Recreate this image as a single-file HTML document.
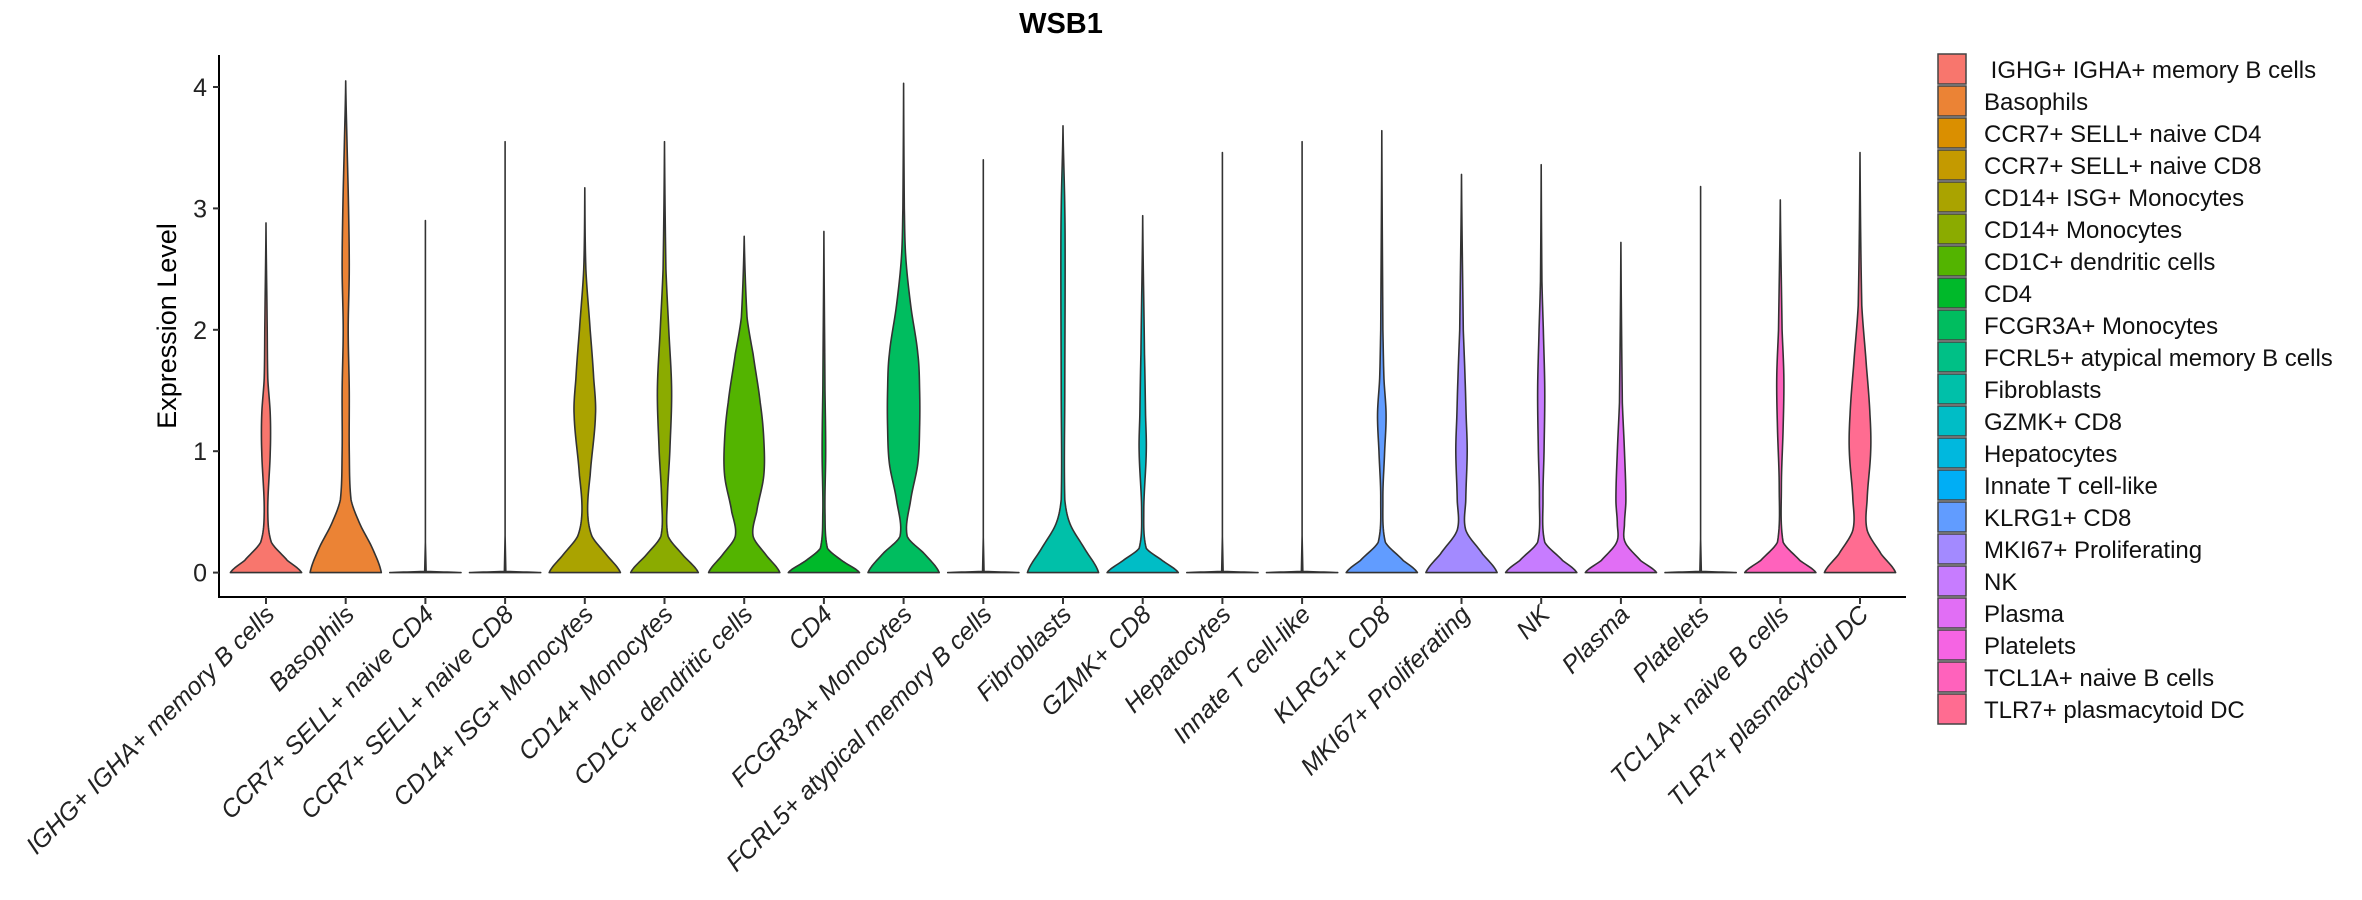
<!DOCTYPE html>
<html><head><meta charset="utf-8"><style>
html,body{margin:0;padding:0;background:#fff;}
svg{display:block;font-family:"Liberation Sans",sans-serif;}
</style></head><body>
<svg id="chart" width="2362" height="900" viewBox="0 0 2362 900">
<text x="1061" y="33" text-anchor="middle" font-size="29" font-weight="bold">WSB1</text>
<text transform="translate(176,326) rotate(-90)" text-anchor="middle" font-size="27">Expression Level</text>
<g id="plot"></g>
<g id="legend"></g>
</svg>
<script>
const categories=["IGHG+ IGHA+ memory B cells","Basophils","CCR7+ SELL+ naive CD4","CCR7+ SELL+ naive CD8","CD14+ ISG+ Monocytes","CD14+ Monocytes","CD1C+ dendritic cells","CD4","FCGR3A+ Monocytes","FCRL5+ atypical memory B cells","Fibroblasts","GZMK+ CD8","Hepatocytes","Innate T cell-like","KLRG1+ CD8","MKI67+ Proliferating","NK","Plasma","Platelets","TCL1A+ naive B cells","TLR7+ plasmacytoid DC"];
const colors=["#F8766D","#EB8335","#DA8F00","#C49A00","#AAA300","#8BAB00","#53B400","#00B92A","#00BD5F","#00C086","#00C0A9","#00BDC6","#00B8DE","#00AEF5","#619CFF","#A38AFF","#C77CFF","#E16EF5","#F564E3","#FF62BC","#FF6C91"];
const maxVals=[2.88,4.05,2.9,3.55,3.17,3.55,2.77,2.81,4.03,3.4,3.68,2.94,3.46,3.55,3.64,3.28,3.36,2.72,3.18,3.07,3.46];
// density profiles: [value, relative half-width]
const profiles=[
[[0,1],[0.1,0.6],[0.25,0.15],[0.5,0.05],[1.0,0.12],[1.3,0.12],[1.6,0.05],[2.1,0.03]],
[[0,1],[0.2,0.75],[0.4,0.4],[0.6,0.15],[1.0,0.1],[1.5,0.1],[2.0,0.07],[2.5,0.1],[3.0,0.08],[3.5,0.04]],
[[0,1],[0.01,0.02]],
[[0,1],[0.01,0.02]],
[[0,1],[0.15,0.6],[0.3,0.2],[0.5,0.08],[0.8,0.15],[1.3,0.3],[1.6,0.25],[2.0,0.15],[2.5,0.03]],
[[0,0.95],[0.15,0.5],[0.3,0.1],[0.6,0.08],[1.0,0.15],[1.5,0.2],[2.0,0.12],[2.5,0.04]],
[[0,1],[0.15,0.6],[0.3,0.25],[0.5,0.35],[0.8,0.55],[1.1,0.55],[1.4,0.45],[1.8,0.25],[2.1,0.08]],
[[0,1],[0.1,0.5],[0.2,0.1],[0.5,0.03],[1.0,0.05],[1.5,0.03]],
[[0,1],[0.15,0.6],[0.3,0.1],[0.6,0.2],[0.9,0.4],[1.2,0.45],[1.5,0.45],[1.8,0.4],[2.2,0.2],[2.6,0.06],[3.0,0.02]],
[[0,1],[0.01,0.02]],
[[0,1],[0.2,0.6],[0.4,0.2],[0.6,0.05],[1.5,0.05],[2.5,0.06],[3.0,0.05]],
[[0,1],[0.1,0.55],[0.2,0.1],[0.5,0.03],[1.0,0.1],[1.3,0.08],[1.8,0.05]],
[[0,1],[0.01,0.02]],
[[0,1],[0.01,0.02]],
[[0,1],[0.1,0.6],[0.25,0.1],[0.6,0.03],[1.0,0.08],[1.3,0.12],[1.6,0.06],[2.0,0.03]],
[[0,1],[0.15,0.6],[0.35,0.12],[0.6,0.12],[1.0,0.16],[1.3,0.13],[1.6,0.1],[2.0,0.05]],
[[0,1],[0.1,0.6],[0.25,0.1],[0.6,0.05],[1.0,0.08],[1.5,0.1],[2.0,0.06],[2.4,0.02]],
[[0,1],[0.1,0.55],[0.25,0.12],[0.4,0.1],[0.6,0.14],[1.0,0.1],[1.4,0.04]],
[[0,1],[0.01,0.02]],
[[0,1],[0.1,0.55],[0.25,0.08],[0.7,0.03],[1.2,0.08],[1.6,0.1],[2.0,0.05]],
[[0,1],[0.15,0.6],[0.35,0.2],[0.6,0.2],[1.0,0.3],[1.3,0.28],[1.7,0.18],[2.2,0.05]]
];
const yTicks=[0,1,2,3,4];

const NS="http://www.w3.org/2000/svg";
const plot=document.getElementById('plot');
const X0=266,DX=79.7,Y0=572.6,UNIT=121.4,HW=35.6;
const xs=i=>X0+DX*i, ys=v=>Y0-v*UNIT;
function mk(t,a,p){const e=document.createElementNS(NS,t);for(const k in a)e.setAttribute(k,a[k]);(p||plot).appendChild(e);return e;}
let ax=mk('line',{x1:219,y1:55,x2:219,y2:598,stroke:'#000','stroke-width':2});


let bx=mk('line',{x1:218,y1:597,x2:1906,y2:597,stroke:'#000','stroke-width':2});


yTicks.forEach(t=>{
  const tk=mk('line',{x1:213,x2:219,y1:ys(t),y2:ys(t),stroke:'#333','stroke-width':2});
  
  
  const tl=mk('text',{x:207,y:ys(t)+9,'text-anchor':'end','font-size':25,fill:'#222'});
  tl.textContent=t;
  
  
});
function smooth(pts,n,vmax){
  const out=[];
  for(let i=0;i<pts.length-1;i++){
    const p0=pts[Math.max(0,i-1)],p1=pts[i],p2=pts[i+1],p3=pts[Math.min(pts.length-1,i+2)];
    for(let s=0;s<n;s++){const t=s/n,t2=t*t,t3=t2*t;
      const f=(a,b,c,d)=>0.5*(2*b+(-a+c)*t+(2*a-5*b+4*c-d)*t2+(-a+3*b-3*c+d)*t3);
      let v=Math.min(vmax,Math.max(0,p1[0]+(p2[0]-p1[0])*t));
      out.push([v,Math.max(0,f(p0[1],p1[1],p2[1],p3[1]))]);}
  }
  out.push(pts[pts.length-1]);return out;
}
categories.forEach((c,i)=>{
  const cx=xs(i);
  const pts=profiles[i].concat([[maxVals[i],0]]);
  const sm=smooth(pts,12,maxVals[i]);
  let d='M'+(cx-sm[0][1]*HW)+','+ys(sm[0][0]);
  sm.forEach(p=>{d+='L'+(cx-p[1]*HW).toFixed(2)+','+ys(p[0]).toFixed(2);});
  for(let k=sm.length-1;k>=0;k--){const p=sm[k];d+='L'+(cx+p[1]*HW).toFixed(2)+','+ys(p[0]).toFixed(2);}
  d+='Z';
  const v=mk('path',{d:d,fill:colors[i],stroke:'#333','stroke-width':1.6,'stroke-linejoin':'round'});
  
  
  const tk=mk('line',{x1:cx,x2:cx,y1:597,y2:604,stroke:'#333','stroke-width':2});
  
  
  const tl=mk('text',{transform:`translate(${cx+10},${616}) rotate(-45)`,'text-anchor':'end','font-size':25,'font-style':'italic',fill:'#222'});
  tl.textContent=c;
  
  
  const lg=document.getElementById('legend');
  const ky=54+i*32;
  const r=mk('rect',{x:1938,y:ky,width:28,height:30,fill:colors[i],stroke:'#444','stroke-width':1.5},lg);
  
  
  const lt=mk('text',{x:1984,y:ky+24,'font-size':24,fill:'#111'},lg);
  lt.textContent=(i===0?'\u00a0':'')+c;
  
  
});
</script>
</body></html>
